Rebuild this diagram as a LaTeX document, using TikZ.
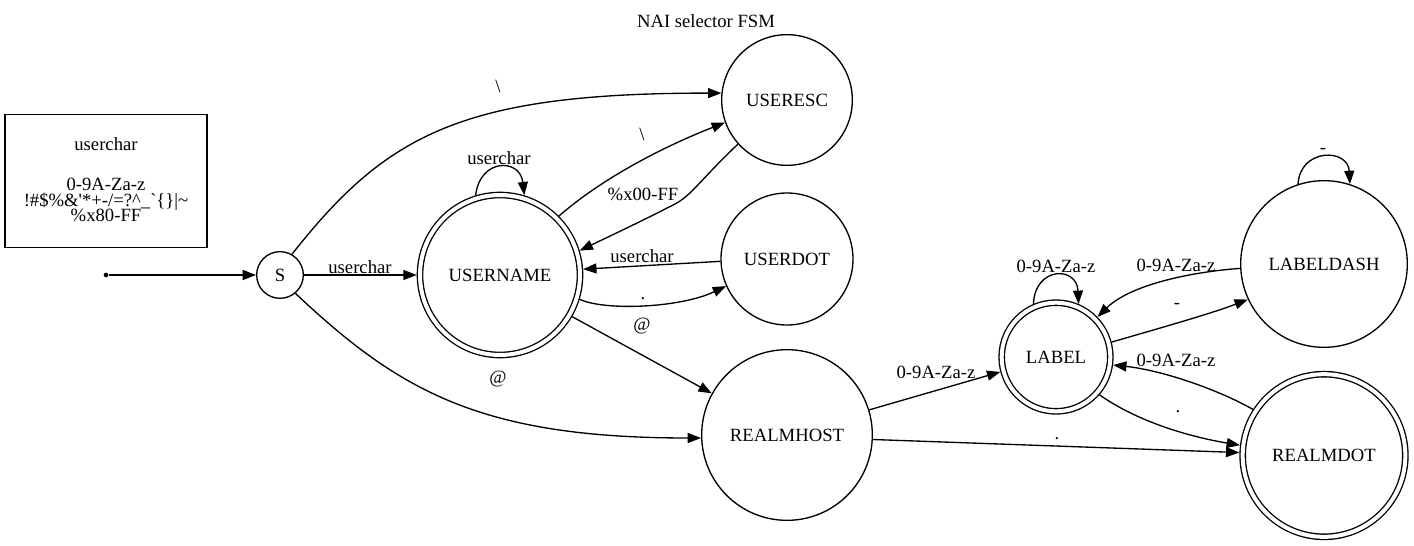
\documentclass[tikz,border=0pt]{standalone}
\usepackage{fontspec}
\setmainfont{Liberation Serif}
\usetikzlibrary{arrows.meta}

\begin{document}
\begin{tikzpicture}[x=0.75pt, y=-0.75pt, line width=1pt,
  font=\fontsize{14}{16.8}\selectfont,
  state/.style={circle, draw, inner sep=0pt},
  final/.style={state, double, double distance=3pt, outer sep=2.5pt},
  arr/.style={-{Triangle[length=10pt, width=7.5pt]}},
  lab/.style={inner sep=0pt},
  dot/.style={circle, fill, inner sep=0pt, minimum size=3.5pt}]
\useasboundingbox (0,0) rectangle (1414,546);

\node (title) at (706,21) {NAI selector FSM};
\node[draw, minimum width=151.5pt, minimum height=100pt] (ucbox) at (106,181) {};
\node[align=center] (uctext) at (106,179.5) {userchar\\[13.5pt]0-9A-Za-z\\[-5.5pt]!\#\$\%\&\textquotesingle*+-/=?\textasciicircum\_\textasciigrave\{\}|\textasciitilde\\[-5.5pt]\%x80-FF};

\node[dot] (start) at (106,275) {};
\node[state, minimum size=35pt] (S) at (280,275) {S};
\node[final, minimum size=120pt] (UN) at (500,275) {USERNAME};
\node[state, minimum size=98pt] (UE) at (787,100) {USERESC};
\node[state, minimum size=99pt] (UD) at (787,259) {USERDOT};
\node[state, minimum size=128pt] (RH) at (787,435) {REALMHOST};
\node[final, minimum size=81.5pt] (LB) at (1056,357) {LABEL};
\node[state, minimum size=125pt] (LD) at (1324,264) {LABELDASH};
\node[final, minimum size=122pt] (RD) at (1324,455.5) {REALMDOT};

\draw[arr] (start) -- (S);
\draw[arr] (S) -- (UN) node[lab] (lSUN) at (360,267) {userchar};
\draw[arr] (S.60) .. controls (386,135) and (461,93) .. (UE.174) node[lab] (lSUE) at (498,86) {\textbackslash};
\draw[arr] (S.-50) .. controls (400,392) and (482,438) .. (RH.182) node[lab] (lSRH) at (498,379) {@};
\draw[arr] (UN.107) .. controls (480,158) and (520,158) .. (UN.73) node[lab] (lUNloop) at (499,158) {userchar};
\draw[arr] (UN.45) .. controls (600,180) and (660,148) .. (UE.200) node[lab] (lUNUE) at (642,134) {\textbackslash};
\draw[arr] (UE.222) .. controls (700,180) and (692,195) .. (675,204) .. controls (640,222) and (610,236) .. (UN.17) node[lab] (lUEUN) at (643,194) {\%x00-FF};
\draw[arr] (UD.182) -- (UN.4) node[lab] (lUDUN) at (642,256) {userchar};
\draw[arr] (UN.-17) .. controls (605,311) and (680,308) .. (UD.204) node[lab] (lUNUD) at (643,299) {.};
\draw[arr] (UN.-30) -- (RH.151) node[lab] (lUNRH) at (642,326) {@};
\draw[arr] (RH.17) -- (LB.195) node[lab] (lRHLB) at (936,372) {0-9A-Za-z};
\draw[arr] (RH.-3) -- (RD.178) node[lab] (lRHRD) at (1057,439) {.};
\draw[arr] (LB.113) .. controls (1035,266) and (1077,266) .. (LB.67) node[lab] (lLBloop) at (1056,266) {0-9A-Za-z};
\draw[arr] (LD.183) .. controls (1190,272) and (1130,285) .. (LB.44) node[lab] (lLDLB) at (1176,265) {0-9A-Za-z};
\draw[arr] (LB.15) .. controls (1160,328) and (1210,314) .. (LD.205) node[lab] (lLBLD) at (1177,306) {-};
\draw[arr] (RD.147) .. controls (1215,388) and (1160,370) .. (LB.-8) node[lab] (lRDLB) at (1176,360) {0-9A-Za-z};
\draw[arr] (LB.-41) .. controls (1135,420) and (1185,436) .. (RD.173) node[lab] (lLBRD) at (1178,412) {.};
\draw[arr] (LD.108) .. controls (1300,148) and (1348,148) .. (LD.72) node[lab] (lLDloop) at (1323,151) {-};
\end{tikzpicture}
\end{document}
